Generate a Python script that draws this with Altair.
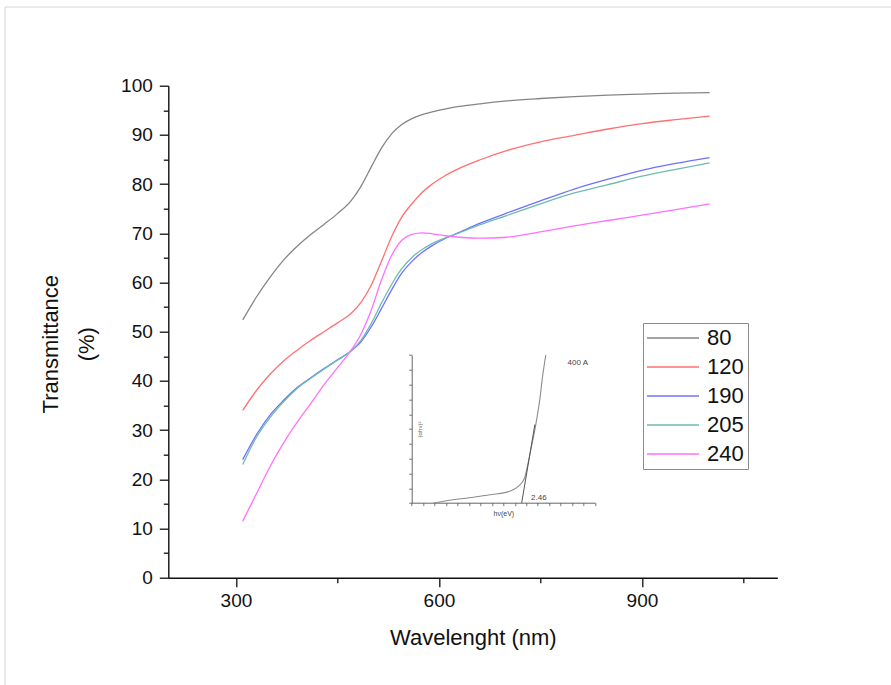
import altair as alt
import pandas as pd

# ---------------- main data ----------------
wavelength = [310, 330, 350, 370, 390, 410, 430, 450, 470, 485, 500, 515, 530, 545,
              560, 575, 590, 610, 630, 660, 700, 750, 800, 850, 900, 950, 1000]
t80 = [52.4, 57.0, 61.0, 64.5, 67.3, 69.7, 71.8, 74.0, 76.6, 79.6, 83.5, 87.3, 90.2, 92.1,
       93.3, 94.1, 94.7, 95.3, 95.8, 96.3, 96.9, 97.4, 97.8, 98.1, 98.3, 98.5, 98.6]
t120 = [34.0, 38.0, 41.3, 44.0, 46.2, 48.2, 50.0, 51.8, 53.7, 56.0, 59.5, 64.3, 69.3, 73.3,
        76.0, 78.3, 80.0, 81.8, 83.2, 84.9, 86.8, 88.6, 89.9, 91.2, 92.3, 93.1, 93.8]
t190 = [24.0, 29.0, 33.0, 36.0, 38.6, 40.6, 42.5, 44.3, 46.1, 48.0, 51.0, 54.7, 58.5, 61.9,
        64.3, 66.1, 67.5, 69.0, 70.2, 72.0, 74.1, 76.6, 79.0, 81.0, 82.8, 84.2, 85.4]
t205 = [23.0, 28.5, 32.5, 35.7, 38.4, 40.5, 42.4, 44.2, 46.1, 48.3, 51.7, 55.8, 59.6, 62.8,
        65.1, 66.7, 67.9, 69.1, 70.1, 71.7, 73.6, 76.0, 78.2, 79.9, 81.6, 83.0, 84.3]
t240 = [11.5, 17.0, 22.5, 27.3, 31.5, 35.3, 39.2, 42.7, 46.2, 49.6, 54.4, 60.5, 65.5, 68.6,
        69.8, 70.1, 69.9, 69.5, 69.2, 69.0, 69.2, 70.3, 71.5, 72.6, 73.7, 74.8, 76.0]
series_names = ["80", "120", "190", "205", "240"]
series_colors = ["#858585", "#ff7070", "#7070ff", "#6dbcb0", "#ff70ff"]

x_ticks = [300, 450, 600, 750, 900, 1050]
y_ticks = list(range(0, 101, 5))

# ---------------- inset data ----------------
inset_E = [1.69, 1.86, 2.0, 2.12, 2.25, 2.355, 2.43, 2.485, 2.51, 2.54, 2.59, 2.62, 2.64, 2.67]
inset_A = [0.0, 0.22, 0.35, 0.49, 0.62, 0.79, 1.12, 1.69, 2.47, 3.6, 5.6, 7.1, 8.4, 10.0]
tangent_E = [2.46, 2.575]
tangent_A = [0.0, 5.3]
inset_labels = ["2.46", "400 A"]
inset_label_E = [2.61, 2.95]
inset_label_A = [0.34, 9.46]
inset_x_ticks = [round(1.5 + 0.1 * i, 1) for i in range(17)]
inset_y_ticks = list(range(0, 11))

rows = []
for name, vals in zip(series_names, [t80, t120, t190, t205, t240]):
    for w, v in zip(wavelength, vals):
        rows.append({"wavelength": w, "T": v, "series": name, "order": series_names.index(name)})
df = pd.DataFrame(rows)

curve_df = pd.DataFrame({"E": inset_E, "A": inset_A})
tan_df = pd.DataFrame({"E": tangent_E, "A": tangent_A})
lab_df = pd.DataFrame({"E": inset_label_E, "A": inset_label_A, "txt": inset_labels})

W, H = 609, 492
FONT = "Liberation Sans"

main = alt.Chart(df).mark_line(strokeWidth=1.3, interpolate="monotone").encode(
    x=alt.X("wavelength:Q",
            scale=alt.Scale(domain=[200, 1100], nice=False, zero=False),
            axis=alt.Axis(values=x_ticks, format="d",
                          labelExpr="datum.value % 300 === 0 ? datum.label : ''",
                          tickSize={"condition": {"test": "datum.value % 300 === 0", "value": 9}, "value": 5},
                          labelPadding=5, title="Wavelenght (nm)", titlePadding=17)),
    y=alt.Y("T:Q",
            scale=alt.Scale(domain=[0, 100], nice=False, zero=False),
            axis=alt.Axis(values=y_ticks, format="d",
                          labelExpr="datum.value % 10 === 0 ? datum.label : ''",
                          tickSize={"condition": {"test": "datum.value % 10 === 0", "value": 9}, "value": 5},
                          labelPadding=7,
                          title=["Transmittance", "(%)"],
                          titleX=-128, titleY=258, titleAngle=270,
                          titleAlign="center", titleBaseline="top",
                          titleLineHeight=36)),
    color=alt.Color("series:N",
                    scale=alt.Scale(domain=series_names, range=series_colors),
                    sort=series_names,
                    legend=alt.Legend(title=None, orient="none", legendX=474.7, legendY=237.3,
                                      symbolType="M-2.6,0H2.6", symbolSize=400,
                                      symbolStrokeWidth=1.3, symbolOffset=15,
                                      labelOffset=23, labelFontSize=22, labelFont=FONT,
                                      labelColor="#111", rowPadding=7, padding=4,
                                      strokeColor="#8c8c8c", fillColor="white")),
    order="order:Q",
)

ix = alt.X("E:Q", scale=alt.Scale(domain=[1.5, 3.1], range=[243.4, 426.7], nice=False, zero=False),
           axis=alt.Axis(orient="bottom", offset=-75, values=inset_x_ticks, labels=False,
                         tickSize=3, tickWidth=0.8, domainWidth=0.9,
                         domainColor="#555", tickColor="#555",
                         title="hν(eV)", titleFontSize=7, titleFontWeight="normal",
                         titlePadding=3, titleColor="#444"))
iy = alt.Y("A:Q", scale=alt.Scale(domain=[0, 10], range=[417.3, 269.3], nice=False, zero=False),
           axis=alt.Axis(orient="left", offset=-243.4, values=inset_y_ticks, labels=False,
                         tickSize=3, tickWidth=0.8, domainWidth=0.9,
                         domainColor="#555", tickColor="#555",
                         title="(αhν)²", titleFontSize=6, titleFontWeight="normal",
                         titleColor="#666", titlePadding=-14))

inset_curve = alt.Chart(curve_df).mark_line(color="#8c8c8c", strokeWidth=1.1,
                                             interpolate="monotone").encode(x=ix, y=iy)
inset_tan = alt.Chart(tan_df).mark_line(color="#555", strokeWidth=1.0).encode(x=ix, y=iy)
inset_txt = alt.Chart(lab_df).mark_text(fontSize=8, font=FONT, color="#444").encode(
    x=ix, y=iy, text="txt:N")

inset = alt.layer(inset_curve, inset_tan, inset_txt)

# light frame of the original screenshot (decoration, top and left edges)
frame_src = pd.DataFrame({"k": [0]})
frame_top = alt.Chart(frame_src).mark_rule(color="#d4d4d4", strokeWidth=1).encode(
    x=alt.value(-163.3), x2=alt.value(891 - 168.3), y=alt.value(-78.7))
frame_left = alt.Chart(frame_src).mark_rule(color="#d4d4d4", strokeWidth=1).encode(
    x=alt.value(-163.3), y=alt.value(-78.7), y2=alt.value(685 - 85.7))

chart = alt.layer(frame_top, frame_left, main, inset).resolve_scale(
    x="independent", y="independent", color="independent"
).properties(
    width=W, height=H,
    autosize=alt.AutoSizeParams(type="none"),
    padding={"left": 168.3, "top": 85.7, "right": 113.7, "bottom": 107.3},
    background="white",
).configure_view(stroke=None).configure_axis(
    grid=False, domainColor="#111", tickColor="#111", domainWidth=1.4, tickWidth=1.3,
    labelFont=FONT, labelFontSize=19, labelColor="#111",
    titleFont=FONT, titleFontSize=22, titleFontWeight="normal", titleColor="#111",
)

chart.save("out.html", embed_options={"renderer": "svg", "actions": False})
